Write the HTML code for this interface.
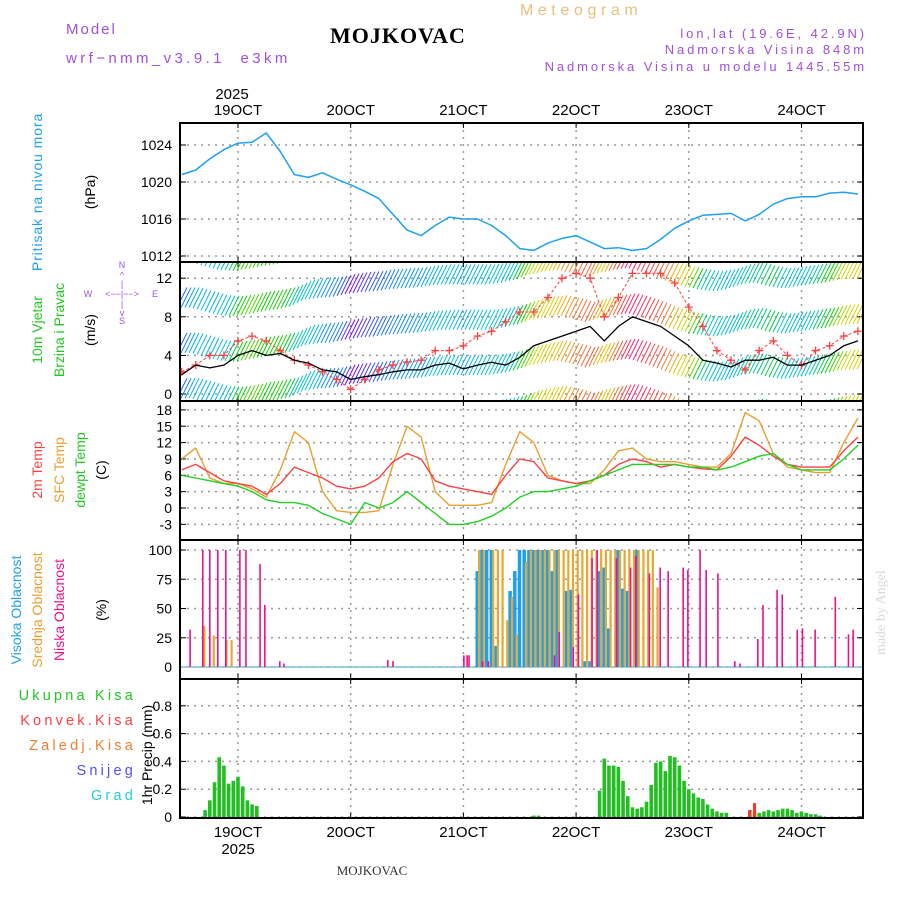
<!DOCTYPE html>
<html><head><meta charset="utf-8"><title>Meteogram MOJKOVAC</title>
<style>
html,body{margin:0;padding:0;background:#fff;}
svg{display:block;font-family:"Liberation Sans",sans-serif;}
</style></head>
<body>
<svg id="chart" width="900" height="900" viewBox="0 0 900 900" xmlns="http://www.w3.org/2000/svg">
<defs>
<clipPath id="c1"><rect x="180" y="123" width="683" height="139"/></clipPath>
<clipPath id="c2"><rect x="180" y="262" width="683" height="139"/></clipPath>
<clipPath id="c3"><rect x="180" y="401" width="683" height="139"/></clipPath>
<clipPath id="c4"><rect x="180" y="540" width="683" height="139"/></clipPath>
<clipPath id="c5"><rect x="180" y="679" width="683" height="139"/></clipPath>
</defs>
<!-- header -->
<text x="66" y="34" fill="#a050e0" font-size="15" letter-spacing="2">Model</text>
<text x="66" y="63" fill="#a050e0" font-size="15" letter-spacing="3.4" word-spacing="8">wrf−nmm_v3.9.1 e3km</text>
<text x="330" y="43" fill="#000" font-size="22" font-weight="bold" font-family="Liberation Serif, serif" letter-spacing="1">MOJKOVAC</text>
<text x="520" y="15" fill="#e8c080" font-size="16" letter-spacing="4.6">Meteogram</text>
<text x="867" y="38" text-anchor="end" fill="#a050e0" font-size="13" letter-spacing="2.9">lon,lat (19.6E, 42.9N)</text>
<text x="867" y="54" text-anchor="end" fill="#a050e0" font-size="13" letter-spacing="2.9">Nadmorska Visina 848m</text>
<text x="867" y="71" text-anchor="end" fill="#a050e0" font-size="13" letter-spacing="2.9">Nadmorska Visina u modelu 1445.55m</text>
<text x="232" y="99" text-anchor="middle" font-size="15">2025</text>
<text x="238" y="854" text-anchor="middle" font-size="15">2025</text>
<text x="372" y="875" text-anchor="middle" font-size="13" font-family="Liberation Serif, serif" fill="#333">MOJKOVAC</text>
<text transform="translate(885,655) rotate(-90)" font-size="14" font-family="Liberation Serif, serif" fill="#d8d8d8">made by Angel</text>

<!-- left labels -->
<text transform="translate(42,192) rotate(-90)" text-anchor="middle" font-size="14" fill="#1ea0f0" letter-spacing="0.9">Pritisak na nivou mora</text>
<text transform="translate(95,192) rotate(-90)" text-anchor="middle" font-size="14">(hPa)</text>
<text transform="translate(42,330) rotate(-90)" text-anchor="middle" font-size="14" fill="#20c820">10m Vjetar</text>
<text transform="translate(64,330) rotate(-90)" text-anchor="middle" font-size="14" fill="#20c820">Brzina i Pravac</text>
<text transform="translate(95,330) rotate(-90)" text-anchor="middle" font-size="14">(m/s)</text>
<g fill="#a050e0" font-size="9" text-anchor="middle">
<text x="122" y="268">N</text><text x="122" y="278">^</text><text x="122" y="287">|</text>
<text x="88" y="297">W</text><text x="122" y="297">&lt;−−|−−&gt;</text><text x="155" y="297">E</text>
<text x="122" y="307">|</text><text x="122" y="316">v</text><text x="122" y="324">S</text>
</g>
<text transform="translate(42,470) rotate(-90)" text-anchor="middle" font-size="14" fill="#ff4040">2m Temp</text>
<text transform="translate(64,470) rotate(-90)" text-anchor="middle" font-size="14" fill="#e8a030">SFC Temp</text>
<text transform="translate(85,470) rotate(-90)" text-anchor="middle" font-size="14" fill="#20c820">dewpt Temp</text>
<text transform="translate(106,470) rotate(-90)" text-anchor="middle" font-size="14">(C)</text>
<text transform="translate(21,610) rotate(-90)" text-anchor="middle" font-size="14" fill="#1ea0f0">Visoka Oblacnost</text>
<text transform="translate(42,610) rotate(-90)" text-anchor="middle" font-size="14" fill="#e8a030">Srednja Oblacnost</text>
<text transform="translate(64,610) rotate(-90)" text-anchor="middle" font-size="14" fill="#f0108a">Niska Oblacnost</text>
<text transform="translate(106,610) rotate(-90)" text-anchor="middle" font-size="14">(%)</text>
<g font-size="14.5" text-anchor="end" letter-spacing="3.2">
<text x="136" y="700" fill="#20c820">Ukupna Kisa</text>
<text x="136" y="725" fill="#ff4040">Konvek.Kisa</text>
<text x="136" y="750" fill="#f08030">Zaledj.Kisa</text>
<text x="136" y="775" fill="#5050f0">Snijeg</text>
<text x="136" y="800" fill="#20d0d0">Grad</text>
</g>
<text transform="translate(152,755) rotate(-90)" text-anchor="middle" font-size="14">1hr Precip (mm)</text>

<g id="grid"></g>
<g id="marks"></g>
<g id="frames"></g>
</svg>
<script>
// ---- data (3-hourly from 18 Oct 12 UTC, hour index relative to 19 Oct 00) ----
const startHour = -12;
const stepHours = 3;
const dayLabels = ["19OCT","20OCT","21OCT","22OCT","23OCT","24OCT"];
const pressureTicks = [1012,1016,1020,1024];
const windTicks = [0,4,8,12];
const tempTicks = [-3,0,3,6,9,12,15,18];
const cloudTicks = [0,25,50,75,100];
const precipTicks = [0,0.2,0.4,0.6,0.8];
const pressure = [1020.8,1021.3,1022.5,1023.5,1024.2,1024.3,1025.3,1023.3,1020.8,1020.5,1021.0,1020.3,1019.7,1019.0,1018.2,1016.5,1014.8,1014.2,1015.3,1016.2,1016.0,1016.0,1015.3,1014.2,1012.8,1012.6,1013.4,1013.9,1014.2,1013.5,1012.8,1012.9,1012.6,1012.8,1013.8,1015.0,1015.8,1016.4,1016.5,1016.6,1015.8,1016.5,1017.6,1018.2,1018.4,1018.4,1018.8,1018.9,1018.7];
const windSpeed = [2,3,2.7,3,4,4.5,4,4.2,3.5,3.2,2.5,2.3,1.5,1.8,2,2.3,2.5,2.5,3,3.2,2.6,3,3.3,3,3.8,5,5.5,6,6.5,7,5.5,7,8,7.5,7,6,5,3.5,3.2,2.8,3.5,3.5,3.8,3,3,3.5,4,5,5.5];
const windGust = [2.3,3,4,4,5.5,6,5.5,4.5,3.5,3,2.3,1.5,0.5,1.5,2.5,3,3.3,3.5,4.5,4.5,5,6,6.5,7.5,8.5,8.5,10,12,12.5,12,8,10,12.5,12.5,12.5,11.5,9,7,4.5,3.5,2.5,4.5,5.5,4,3,4.5,5,6,6.5];
const windBarbBase = [0.6,0.6,0.2,-0.2,-0.3,-0.1,0.2,0.4,0.7,1.4,1.6,1.7,2.0,2.2,2.3,2.5,2.6,2.7,2.9,3.0,3.0,3.0,3.0,3.2,3.5,4,4.3,4.5,4.2,3.8,4.2,4.5,4.7,4.3,3.8,3.2,2.8,2.5,2.3,2.5,3,3.2,2.8,2.6,2.8,3,3.2,3.5,3.6];
const temp2m = [7,8,6.5,5,4.5,4,2.5,4.5,7.5,6.5,5.5,4,3.5,4,5.5,8.5,10,9,5,4,3.5,3,2.5,6,9,8.5,5.5,5,4.5,5,6,8,9,8.5,7.5,8,7.5,7.2,7,9.5,13,11.5,9.5,8,7.5,7.5,7.5,10.5,13];
const tempSfc = [9,11,5.5,4.5,4.5,3.5,2,7,14,12,3,-0.5,-0.8,-0.8,-0.5,8,15,13,3,0.5,0.5,0.5,1,8,14,12,6,5,4.5,4.5,7,10.5,11,9,8.5,8.5,8,7.5,7.5,10,17.5,16,10,7.5,7,6.5,6.5,12,16.5];
const tempDew = [6,5.5,5,4.5,4,3,1.5,1,1,0.5,-1,-2,-3,1,0,1,3,1,-1,-3,-3,-2.5,-1.5,0,2,3,3,3.5,4,5,6,7,8,8,8,8,7.5,7.5,7,7.5,8.5,9.5,10,8,7,7,7,9,11.5];
// clouds (hourly)
const highCloudStart = 51;
const highCloud = [82,100,100,100,18,0,0,65,82,100,100,100,100,100,100,100,82,100,0,65,66,0,0,5,5,0,82,85,33,0,100,67,65,0,100,0,0,0,0];
const midCloudHours = [-7.5,-5.5,-2.8,-1.7,51,52,54,55,56,57,58,59,61,62,63,64,65,66,67,68,69,70,71,72,73,74,75,76,77,78,79,80,81,82,83,84,85,86,87,88,89];
const midCloud = [35,27,23,23,100,100,100,100,100,40,60,28,90,100,100,100,100,100,100,100,100,100,100,100,100,100,100,100,100,100,100,100,100,100,100,100,100,100,100,100,68];
const lowCloudHours = [-10.2,-7.5,-6,-4.3,-2.6,0.4,1.7,4.7,5.7,8.9,9.8,31.9,33,48.1,48.8,49.2,52.1,53.3,67.4,68.4,71.4,72.5,75.4,76.5,80.6,83.6,84.7,87.6,89.9,91.6,94.8,95.8,98.4,99.7,102.2,105.8,106.9,110.7,111.8,114.8,115.9,119.1,120.2,122.9,127.2,130,131];
const lowCloud = [32,100,100,100,100,100,100,88,53,5,3,6,5,10,10,10,5,5,10,30,17,62,93,100,93,85,95,80,85,82,85,83,100,83,80,5,3,24,53,66,62,32,33,32,60,28,32];
// precipitation (hourly)
const precipHours = [-7,-6,-5,-4,-3,-2,-1,0,1,2,3,4,63,64,77,78,79,80,81,82,83,84,85,86,87,88,89,90,91,92,93,94,95,96,97,98,99,100,101,102,103,104,109,110,111,112,113,114,115,116,117,118,119,120,121,122,123,124];
const precipTotal = [0.05,0.12,0.25,0.43,0.37,0.24,0.26,0.29,0.22,0.12,0.09,0.08,0.01,0.01,0.19,0.42,0.37,0.37,0.36,0.26,0.15,0.07,0.06,0.07,0.11,0.23,0.39,0.40,0.33,0.44,0.43,0.37,0.26,0.20,0.17,0.14,0.13,0.09,0.06,0.04,0.03,0.03,0.05,0.04,0.03,0.04,0.05,0.04,0.05,0.06,0.06,0.05,0.03,0.04,0.03,0.02,0.02,0.01];
const convHours = [109,110];
const convPrecip = [0.05,0.1];

// ---- scales ----
const X0 = 180, X1 = 863;
function xOf(h){ return 238 + h*112.7/24; }
function yP(v){ return 256 - (v-1012)*9.25; }
function yW(v){ return 394 - v*9.65; }
function yT(v){ return 508 - v*5.45; }
function yC(v){ return 667 - v*1.17; }
function yR(v){ return 817 - v*139; }
const panels = [[123,262],[262,401],[401,540],[540,679],[679,818]];
const NS = "http://www.w3.org/2000/svg";
function mk(tag, attrs, parent){ const e=document.createElementNS(NS,tag); for(const k in attrs) e.setAttribute(k,attrs[k]); parent.appendChild(e); return e; }
const grid = document.getElementById('grid'), marks = document.getElementById('marks'), frames = document.getElementById('frames');
function hourOfIndex(i){ return startHour + i*stepHours; }
function interp(arr, h){ let f=(h-startHour)/stepHours; if(f<=0) return arr[0]; if(f>=arr.length-1) return arr[arr.length-1]; const i=Math.floor(f), t=f-i; return arr[i]*(1-t)+arr[i+1]*t; }

// ---- grid & axes ----
dayLabels.forEach((d,i)=>{
  const x = xOf(24*i);
  for(const [a,b] of panels){
    const l = mk('line',{x1:x,x2:x,y1:a,y2:b,stroke:'#999','stroke-dasharray':'2,5','stroke-width':1.5},grid);
    
    
  }
  const t1 = mk('text',{x:x,y:115,'text-anchor':'middle','font-size':15},grid); t1.textContent=d;
  
  
  const t2 = mk('text',{x:x,y:837,'text-anchor':'middle','font-size':15},grid); t2.textContent=d;
  
  
  for(const [a,b] of panels){
    mk('line',{x1:x,x2:x,y1:a,y2:a+5,stroke:'#000'},grid);
    mk('line',{x1:x,x2:x,y1:b,y2:b-5,stroke:'#000'},grid);
  }
});
function yTicks(ticks, yf, fmt, name){
  ticks.forEach(v=>{
    const y=yf(v);
    const g = mk('line',{x1:X0,x2:X1,y1:y,y2:y,stroke:'#999','stroke-dasharray':'2,5','stroke-width':1.5},grid);
    
    
    mk('line',{x1:X0,x2:X0+6,y1:y,y2:y,stroke:'#000'},grid);
    mk('line',{x1:X1,x2:X1-6,y1:y,y2:y,stroke:'#000'},grid);
    const t = mk('text',{x:172,y:y+5,'text-anchor':'end','font-size':14},grid); t.textContent=fmt(v);
    
    
  });
}
yTicks(pressureTicks,yP,v=>String(v),'pressure');
yTicks(windTicks,yW,v=>String(v),'wind');
yTicks(tempTicks,yT,v=>String(v),'temp');
yTicks(cloudTicks,yC,v=>String(v),'cloud');
yTicks(precipTicks,yR,v=>v===0?'0':v.toFixed(1),'precip');

function series(arr, yf, color, clip, name, w){
  const pts = arr.map((v,i)=>xOf(hourOfIndex(i)).toFixed(1)+','+yf(v).toFixed(1)).join(' ');
  const p = mk('polyline',{points:pts,fill:'none',stroke:color,'stroke-width':w||1.3,'clip-path':'url(#'+clip+')','stroke-linejoin':'round'},marks);
  
  
  return p;
}
// pressure
series(pressure,yP,'#1ea0f0','c1','pressure-line',1.5);

// wind barbs
const stops=[[1.5,[128,0,255]],[2,[32,96,255]],[2.7,[0,176,240]],[3.3,[0,200,200]],[4,[0,208,0]],[5,[192,224,0]],[5.8,[240,192,0]],[6.5,[240,128,48]],[7.3,[255,64,64]],[8.5,[255,0,160]]];
function spdColor(s){
  if(s<=stops[0][0]) return 'rgb('+stops[0][1]+')';
  for(let i=0;i<stops.length-1;i++){ if(s<=stops[i+1][0]){ const t=(s-stops[i][0])/(stops[i+1][0]-stops[i][0]); const c=stops[i][1].map((a,j)=>Math.round(a+(stops[i+1][1][j]-a)*t)); return 'rgb('+c+')'; } }
  return 'rgb('+stops[stops.length-1][1]+')';
}
const barbG = mk('g',{'clip-path':'url(#c2)'},marks);


for(let x=X0+2;x<X1;x+=4){
  const h=(x-238)*24/112.7;
  const base=interp(windBarbBase,h), s=interp(windSpeed,h), col=spdColor(s);
  for(let k=-1;k<=3;k++){
    const yc=yW(base+k*4.7);
    mk('line',{x1:x-5,y1:yc+10,x2:x+5,y2:yc-10,stroke:col,'stroke-width':1},barbG);
  }
}
// gusts with + markers
series(windGust,yW,'#ff4040','c2','wind-gust-line',1).setAttribute('stroke-dasharray','3,2');
windGust.forEach((v,i)=>{
  const x=xOf(hourOfIndex(i)), y=yW(v);
  const m = mk('path',{d:`M${x-4},${y}H${x+4}M${x},${y-4}V${y+4}`,stroke:'#ff4040','stroke-width':1.3,'clip-path':'url(#c2)'},marks);
  
  
});
series(windSpeed,yW,'#000','c2','wind-speed-line',1.3);

// temperature
series(tempSfc,yT,'#e8a030','c3','sfc-temp-line',1.4);
series(temp2m,yT,'#ff4040','c3','temp-2m-line',1.4);
series(tempDew,yT,'#20d020','c3','dewpoint-line',1.4);

// clouds
mk('line',{x1:X0,x2:X1,y1:yC(0),y2:yC(0),stroke:'#80c0d8','stroke-width':1.5},marks);
highCloud.forEach((v,i)=>{
  if(v<=0) return;
  const x=xOf(highCloudStart+i), y=yC(v);
  const r = mk('rect',{x:x-2,y:y,width:3.5,height:yC(0)-y,fill:'#1ea0f0','clip-path':'url(#c4)'},marks);
  
  
});
midCloud.forEach((v,i)=>{
  const x=xOf(midCloudHours[i])+1.5, y=yC(v);
  const r = mk('rect',{x:x-1,y:y,width:2.2,height:yC(0)-y,fill:'#e8a830','clip-path':'url(#c4)'},marks);
  
  
});
lowCloud.forEach((v,i)=>{
  const x=xOf(lowCloudHours[i]), y=yC(v);
  const r = mk('rect',{x:x-0.8,y:y,width:1.6,height:yC(0)-y,fill:'#f0108a','clip-path':'url(#c4)'},marks);
  
  
});

// precipitation
precipTotal.forEach((v,i)=>{
  const x=xOf(precipHours[i]), y=yR(v);
  const r = mk('rect',{x:x-1.8,y:y,width:3.6,height:yR(0)-y,fill:'#20c020','clip-path':'url(#c5)'},marks);
  
  
});
convPrecip.forEach((v,i)=>{
  const x=xOf(convHours[i]), y=yR(v);
  const r = mk('rect',{x:x-1.5,y:y,width:3,height:yR(0)-y,fill:'#ff3030','clip-path':'url(#c5)'},marks);
  
  
});

// frames
panels.forEach(([a,b],i)=>{
  const r = mk('rect',{x:X0,y:a,width:X1-X0,height:b-a,fill:'none',stroke:'#000','stroke-width':2},frames);
  
  
});
</script>
</body></html>
